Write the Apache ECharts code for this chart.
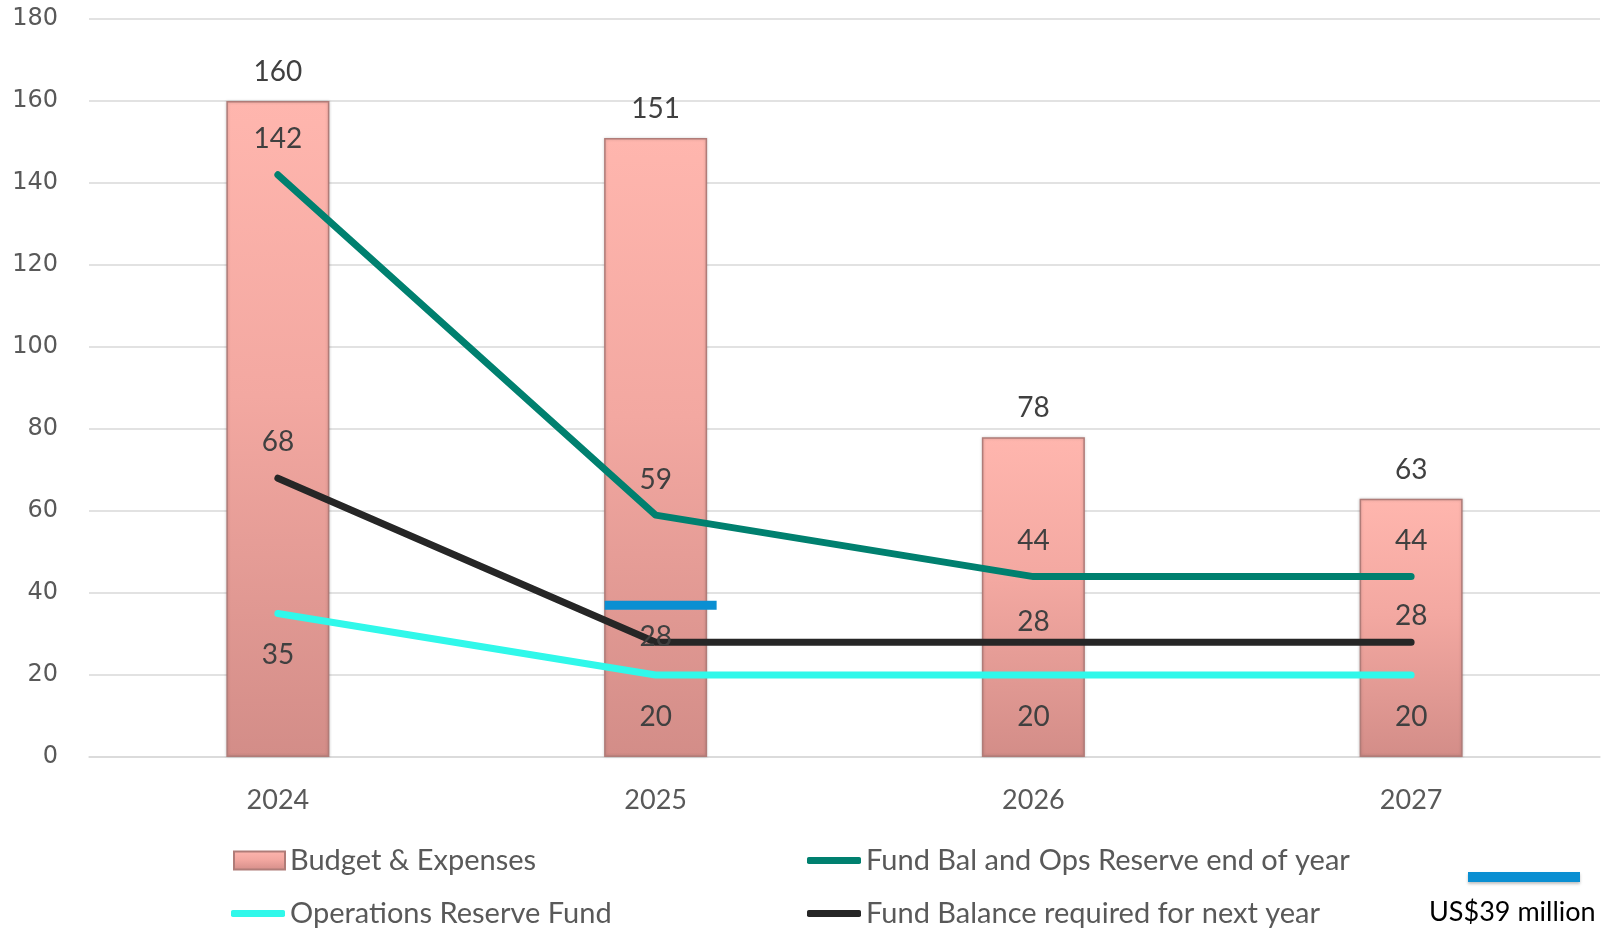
<!DOCTYPE html>
<html>
<head>
<meta charset="utf-8">
<script src="https://cdn.jsdelivr.net/npm/echarts@6/dist/echarts.min.js"></script>
<style>
html,body{margin:0;padding:0;background:#fff;}
#chart{width:1604px;height:930px;}
</style>
</head>
<body>
<div id="chart"></div>
<script>
const categories = ['2024', '2025', '2026', '2027'];
const budgetExpenses = [160, 151, 78, 63];
const fundBalOpsReserve = [142, 59, 44, 44];
const opsReserveFund = [35, 20, 20, 20];
const fundBalanceRequired = [68, 28, 28, 28];
const markerValues = [null, 37, null, null];
const markerLabel = 'US$39 million';
const yTicks = { min: 0, max: 180, interval: 20 };

const labelFont = 'Lato, "Open Sans", sans-serif';
const labelColor = '#404040';
const labelSize = 28;
const legendText = { fontFamily: labelFont, fontSize: 29, color: '#595959' };

function withLabelOffsets(values, offsets) {
  return values.map((v, i) => ({
    value: v,
    label: { offset: [0, offsets[i]] }
  }));
}

function legendItem(name, left, top, isLine) {
  return {
    orient: 'horizontal', left: left, top: top, padding: 0,
    itemWidth: isLine ? 54 : 51, itemHeight: isLine ? 7 : 18,
    textStyle: legendText,
    selectedMode: false,
    data: [isLine ? { name: name, icon: 'roundRect' } : { name: name, icon: 'rect' }]
  };
}

const chart = echarts.init(document.getElementById('chart'));
chart.setOption({
  animation: false,
  backgroundColor: '#ffffff',
  grid: { left: 89, right: 4, top: 19, bottom: 173, containLabel: false },
  xAxis: {
    type: 'category',
    data: categories,
    axisLine: { show: true, lineStyle: { color: '#d9d9d9', width: 1.5 } },
    axisTick: { show: false },
    axisLabel: { margin: 30, fontFamily: labelFont, fontSize: 27, color: '#595959' }
  },
  yAxis: {
    type: 'value',
    min: yTicks.min, max: yTicks.max, interval: yTicks.interval,
    axisLine: { show: false },
    axisTick: { show: false },
    splitLine: { lineStyle: { color: '#d9d9d9', width: 1.5 } },
    axisLabel: { margin: 31, fontFamily: '"DejaVu Sans", sans-serif', fontSize: 24, color: '#595959' }
  },
  legend: [
    legendItem('Budget & Expenses', 233, 846, false),
    legendItem('Operations Reserve Fund', 231, 899, true),
    legendItem('Fund Bal and Ops Reserve end of year', 807, 846, true),
    legendItem('Fund Balance required for next year', 807, 899, true)
  ],
  graphic: [
    {
      type: 'rect', left: 1468, top: 872,
      shape: { width: 112, height: 10 },
      style: { fill: '#0a8fd2', shadowColor: 'rgba(0,0,0,0.25)', shadowBlur: 3, shadowOffsetY: 2 }
    },
    {
      type: 'text', left: 1429, top: 899,
      style: { text: markerLabel, font: '27px Lato, "Open Sans", sans-serif', fill: '#000000' }
    }
  ],
  series: [
    {
      name: 'Budget & Expenses',
      type: 'bar',
      data: budgetExpenses,
      barWidth: 103,
      z: 1,
      itemStyle: {
        color: {
          type: 'linear', x: 0, y: 0, x2: 0, y2: 1,
          colorStops: [
            { offset: 0, color: '#ffb6ae' },
            { offset: 0.45, color: '#f3a8a1' },
            { offset: 1, color: '#d38d88' }
          ]
        },
        borderColor: '#b07c78', borderWidth: 1.5,
        shadowColor: 'rgba(0,0,0,0.18)', shadowBlur: 3
      },
      label: {
        show: true, position: 'top', distance: 15,
        fontFamily: labelFont, fontSize: labelSize, color: labelColor
      }
    },
    {
      name: 'Fund Bal and Ops Reserve end of year',
      type: 'line',
      data: fundBalOpsReserve,
      symbol: 'circle', symbolSize: 1, showSymbol: true,
      z: 3,
      lineStyle: { color: '#00806f', width: 7, cap: 'round', join: 'round' },
      itemStyle: { color: '#00806f' },
      label: {
        show: true, position: 'top', distance: 21,
        fontFamily: labelFont, fontSize: labelSize, color: labelColor
      }
    },
    {
      name: 'Operations Reserve Fund',
      type: 'line',
      data: opsReserveFund,
      symbol: 'circle', symbolSize: 1, showSymbol: true,
      z: 3,
      lineStyle: { color: '#30f8ea', width: 7, cap: 'round', join: 'round' },
      itemStyle: { color: '#30f8ea' },
      label: {
        show: true, position: 'bottom', distance: 27,
        fontFamily: labelFont, fontSize: labelSize, color: labelColor
      }
    },
    {
      name: 'Fund Balance required for next year',
      type: 'line',
      data: withLabelOffsets(fundBalanceRequired, [0, 31, 16, 10]),
      symbol: 'circle', symbolSize: 1, showSymbol: true,
      z: 4,
      lineStyle: { color: '#262626', width: 7, cap: 'round', join: 'round' },
      itemStyle: { color: '#262626' },
      label: {
        show: true, position: 'top', distance: 22,
        fontFamily: labelFont, fontSize: labelSize, color: labelColor
      }
    },
    {
      name: markerLabel,
      type: 'scatter',
      data: markerValues,
      symbol: 'rect',
      symbolSize: [112, 9],
      symbolOffset: [5, 0],
      z: 5,
      itemStyle: { color: '#0a8fd2', opacity: 1 },
      silent: true
    }
  ]
});
</script>
</body>
</html>
